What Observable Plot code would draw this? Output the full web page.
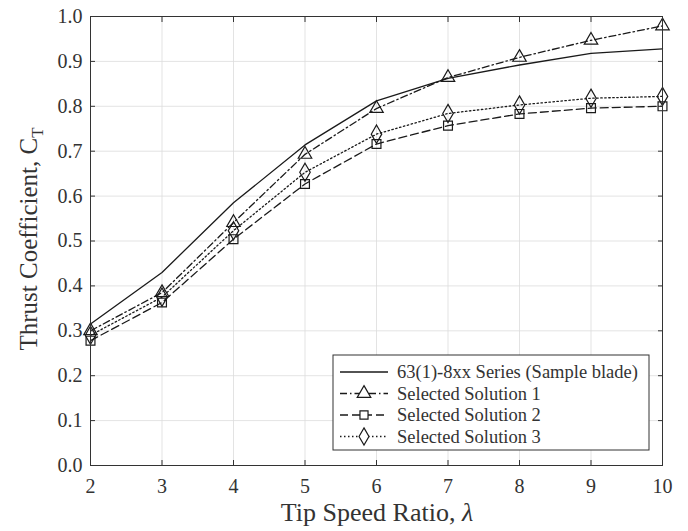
<!DOCTYPE html>
<html>
<head>
<meta charset="utf-8">
<script src="https://cdn.jsdelivr.net/npm/d3@7"></script>
<script src="https://cdn.jsdelivr.net/npm/@observablehq/plot@0.6"></script>
<style>
  html, body { margin: 0; padding: 0; background: #fff; }
  #chart { width: 688px; height: 531px; }
</style>
</head>
<body>
<div id="chart"></div>
<script>
// ---- data ----
const tsr = [2, 3, 4, 5, 6, 7, 8, 9, 10];
const sampleBlade = [0.315, 0.43, 0.585, 0.714, 0.812, 0.862, 0.892, 0.918, 0.928];
const solution1 = [0.300, 0.385, 0.541, 0.693, 0.795, 0.864, 0.909, 0.947, 0.979];
const solution2 = [0.278, 0.363, 0.504, 0.627, 0.716, 0.757, 0.783, 0.796, 0.800];
const solution3 = [0.290, 0.375, 0.523, 0.653, 0.738, 0.784, 0.803, 0.818, 0.822];
const yTicks = [0, 0.1, 0.2, 0.3, 0.4, 0.5, 0.6, 0.7, 0.8, 0.9, 1.0];
const seriesNames = ["63(1)-8xx Series (Sample blade)", "Selected Solution 1", "Selected Solution 2", "Selected Solution 3"];

// ---- styling ----
const ink = "#1a1a1a";
const series = [
  {name: seriesNames[0], values: sampleBlade, dash: null, symbol: null},
  {name: seriesNames[1], values: solution1, dash: "7,3,1.5,3", symbol: "triangle"},
  {name: seriesNames[2], values: solution2, dash: "8,4", symbol: "square"},
  {name: seriesNames[3], values: solution3, dash: "1.5,2.5", symbol: "diamond"}
];
const rows = series.flatMap(s => tsr.map((x, i) => ({name: s.name, x, y: s.values[i]})));

const marks = [
  Plot.gridX(tsr, {stroke: "#dcdcdc", strokeOpacity: 1, strokeWidth: 0.8}),
  Plot.gridY(yTicks, {stroke: "#dcdcdc", strokeOpacity: 1, strokeWidth: 0.8})
];
for (const s of series) {
  const d = rows.filter(r => r.name === s.name);
  marks.push(Plot.line(d, {x: "x", y: "y", stroke: ink, strokeWidth: 1.3, strokeDasharray: s.dash}));
  if (s.symbol) {
    marks.push(Plot.dot(d, {x: "x", y: "y", symbol: () => s.symbol, r: s.symbol === "diamond" ? 5.5 : 5, stroke: ink, fill: "none", strokeWidth: 1.2}));
  }
}
marks.push(
  Plot.frame({stroke: "#333", strokeWidth: 1}),
  Plot.axisX({ticks: tsr, tickSize: 0, tickPadding: 13, label: null, fontSize: 20, fill: "#333"}),
  Plot.axisY({ticks: yTicks, tickSize: 0, tickPadding: 8, label: null, tickFormat: d3.format(".1f"), fontSize: 20, fill: "#333"}),
  Plot.axisX({ticks: tsr, anchor: "bottom", tickSize: -5, tickFormat: () => "", label: null}),
  Plot.axisX({ticks: tsr, anchor: "top", tickSize: -5, tickFormat: () => "", label: null}),
  Plot.axisY({ticks: yTicks, anchor: "left", tickSize: -5, tickFormat: () => "", label: null}),
  Plot.axisY({ticks: yTicks, anchor: "right", tickSize: -5, tickFormat: () => "", label: null})
);

const chart = Plot.plot({
  width: 688,
  height: 531,
  marginLeft: 90,
  marginRight: 26,
  marginTop: 16,
  marginBottom: 66,
  x: {domain: [2, 10]},
  y: {domain: [0, 1]},
  style: {fontFamily: "'Liberation Serif', 'Times New Roman', serif", fontSize: "20px", background: "#fff", color: "#333"},
  marks
});
document.getElementById("chart").append(chart);

// ---- axis titles & legend ----
const svg = d3.select(chart);
const font = "'Liberation Serif', 'Times New Roman', serif";
const yt = svg.append("text")
  .attr("transform", "translate(37,239) rotate(-90)")
  .attr("text-anchor", "middle")
  .attr("font-family", font).attr("font-size", 25).attr("fill", "#333");
yt.append("tspan").text("Thrust Coefficient, C");
yt.append("tspan").attr("font-size", 17).attr("dy", 6).text("T");

const xt = svg.append("text")
  .attr("x", 377).attr("y", 521)
  .attr("text-anchor", "middle")
  .attr("font-family", font).attr("font-size", 26).attr("fill", "#333");
xt.append("tspan").text("Tip Speed Ratio, ");
xt.append("tspan").attr("font-style", "italic").text("λ");

const lg = svg.append("g").attr("transform", "translate(333,355)");
lg.append("rect").attr("width", 316).attr("height", 95).attr("fill", "#fff").attr("stroke", "#333").attr("stroke-width", 1);
series.forEach((s, i) => {
  const cy = 17 + i * 21.5;
  lg.append("line").attr("x1", 7).attr("x2", 55).attr("y1", cy).attr("y2", cy)
    .attr("stroke", ink).attr("stroke-width", 1.3).attr("stroke-dasharray", s.dash);
  if (s.symbol) {
    const sym = {triangle: d3.symbolTriangle, square: d3.symbolSquare, diamond: d3.symbolDiamond}[s.symbol];
    lg.append("path").attr("transform", `translate(31,${cy})`)
      .attr("d", d3.symbol(sym, s.symbol === "diamond" ? 85 : s.symbol === "triangle" ? 80 : 65)())
      .attr("fill", "#fff").attr("stroke", ink).attr("stroke-width", 1.2);
  }
  lg.append("text").attr("x", 64).attr("y", cy).attr("dy", "0.35em")
    .attr("text-anchor", "start")
    .attr("font-family", font).attr("font-size", 18.5).attr("fill", "#333").text(s.name);
});
</script>
</body>
</html>
